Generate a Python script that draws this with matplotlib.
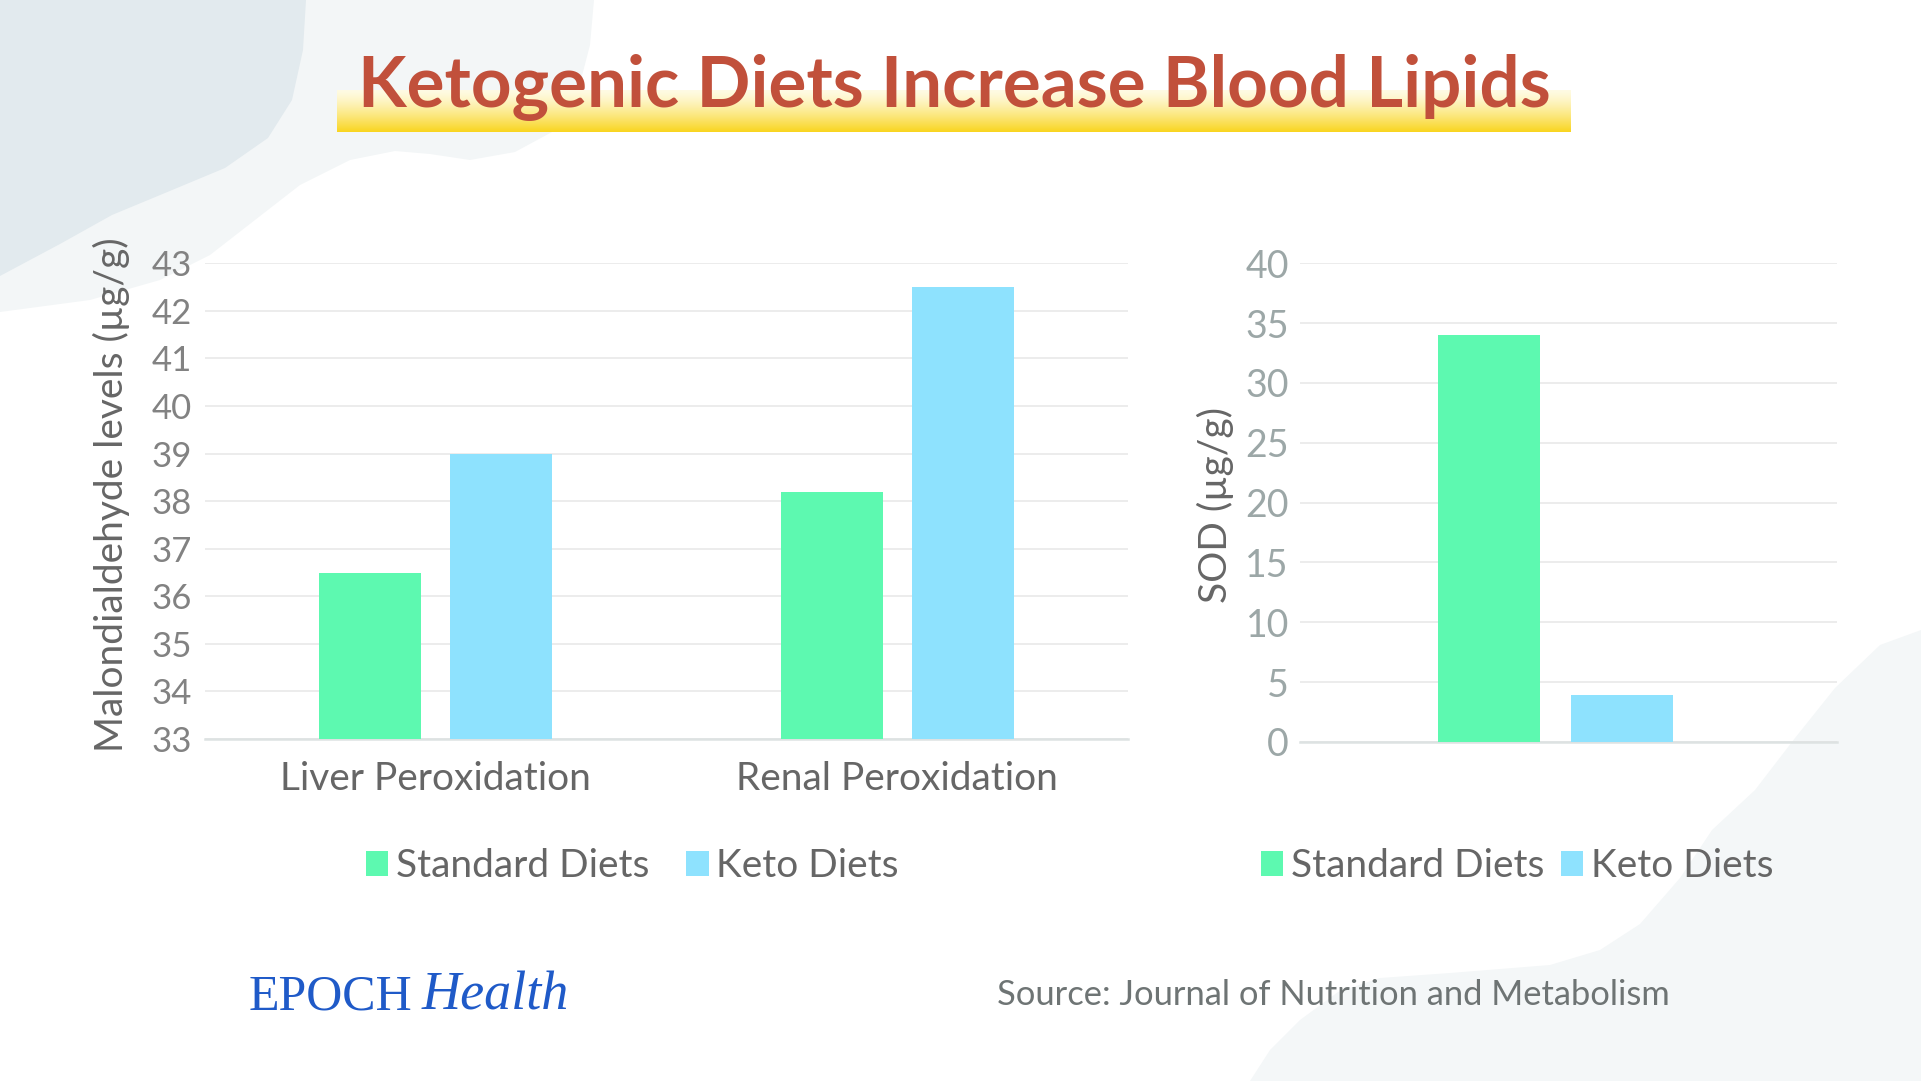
import matplotlib
matplotlib.use('Agg')
import matplotlib.pyplot as plt
import numpy as np
from matplotlib.patches import Polygon

# ---------------- data ----------------
title = 'Ketogenic Diets Increase Blood Lipids'
categories = ['Liver Peroxidation', 'Renal Peroxidation']
series_names = ['Standard Diets', 'Keto Diets']
mda_standard = [36.5, 38.2]
mda_keto = [39.0, 42.5]
mda_ticks = [33, 34, 35, 36, 37, 38, 39, 40, 41, 42, 43]
sod_standard = [34.0]
sod_keto = [3.9]
sod_ticks = [0, 5, 10, 15, 20, 25, 30, 35, 40]
mda_label = 'Malondialdehyde levels (µg/g)'
sod_label = 'SOD (µg/g)'
source_text = 'Source: Journal of Nutrition and Metabolism'

# ---------------- style ----------------
GREEN = '#5df9b0'
BLUE = '#8ee2fe'
TEXT_DARK = '#666666'
plt.rcParams['font.family'] = ['Lato', 'DejaVu Sans']

W, H = 1921, 1081
fig = plt.figure(figsize=(W / 100, H / 100), dpi=100)
fig.patch.set_facecolor('white')


def fx(px):
    return px / W


def fy(py):
    return 1 - py / H


# ---------------- background decoration ----------------
bg = fig.add_axes([0, 0, 1, 1], zorder=-10)
bg.set_xlim(0, W)
bg.set_ylim(H, 0)
bg.axis('off')
light_tl = [(0, 0), (594, 0), (590, 45), (577, 95), (552, 132), (515, 152), (470, 160),
            (430, 154), (395, 151), (350, 160), (300, 185), (255, 220), (210, 255),
            (160, 280), (90, 300), (0, 312)]
dark_tl = [(0, 0), (306, 0), (303, 50), (292, 100), (268, 138), (225, 168), (165, 193),
           (112, 215), (60, 244), (0, 276)]
light_br = [(1921, 630), (1880, 645), (1835, 688), (1795, 738), (1755, 790), (1712, 830),
            (1680, 878), (1640, 924), (1600, 950), (1550, 965), (1450, 973), (1380, 978),
            (1338, 992), (1300, 1020), (1270, 1050), (1250, 1081), (1921, 1081)]
bg.add_patch(Polygon(light_tl, closed=True, facecolor='#f3f6f7', edgecolor='none'))
bg.add_patch(Polygon(dark_tl, closed=True, facecolor='#e2eaee', edgecolor='none'))
bg.add_patch(Polygon(light_br, closed=True, facecolor='#f4f7f8', edgecolor='none'))

# ---------------- title with yellow gradient band ----------------
gax = fig.add_axes([fx(337), fy(132), fx(1571 - 337), (132 - 90) / H], zorder=-5)
t = np.linspace(0, 1, 100) ** 1.3
top = np.array([255, 251, 228]) / 255
bot = np.array([249, 213, 32]) / 255
grad = (top[None, :] * (1 - t[:, None]) + bot[None, :] * t[:, None])[:, None, :]
gax.imshow(grad, aspect='auto', extent=(0, 1, 0, 1))
gax.axis('off')
fig.text(fx(954.5), fy(106.7), title, ha='center', va='baseline', fontsize=51,
         fontweight='bold', color='#c1503b')


def style_axis(ax, ticks, tick_color, tick_size, tick_pad):
    ax.set_facecolor('none')
    for s in ['left', 'right', 'top']:
        ax.spines[s].set_visible(False)
    ax.spines['bottom'].set_color('#dde2e2')
    ax.spines['bottom'].set_linewidth(1.8)
    ax.set_yticks(ticks)
    ax.yaxis.grid(True, color='#e7e7e7', linewidth=1.1)
    ax.set_axisbelow(True)
    ax.tick_params(axis='y', length=0, pad=tick_pad, labelsize=tick_size, labelcolor=tick_color)


# ---------------- left chart ----------------
ax1 = fig.add_axes([fx(205), fy(739), fx(923), 475.7 / H])
x = np.arange(len(categories))
bw, off = 0.2217, 0.142
ax1.bar(x - off, mda_standard, bw, color=GREEN, label=series_names[0], zorder=3)
ax1.bar(x + off, mda_keto, bw, color=BLUE, label=series_names[1], zorder=3)
ax1.set_xlim(-0.5, len(categories) - 0.5)
ax1.set_ylim(mda_ticks[0], mda_ticks[-1])
style_axis(ax1, mda_ticks, '#828282', 25, 9.5)
ax1.set_xticks(x, categories)
ax1.tick_params(axis='x', length=0, pad=16, labelsize=28, labelcolor=TEXT_DARK)
ax1.set_ylabel(mda_label, fontsize=28, color='#666666')
ax1.yaxis.set_label_coords(-0.0813, 0.514)
ax1.legend(loc='center', bbox_to_anchor=(fx(632.5), fy(866)), bbox_transform=fig.transFigure,
           ncol=2, frameon=False, fontsize=28, handlelength=0.57, handleheight=0.62,
           handletextpad=0.2, columnspacing=0.95, labelcolor=TEXT_DARK, borderpad=0)

# ---------------- right chart ----------------
ax2 = fig.add_axes([fx(1300), fy(742), fx(537), 478.7 / H])
x2 = np.arange(len(sod_standard))
bw2, off2 = 0.1905, 0.1238
ax2.bar(x2 - off2, sod_standard, bw2, color=GREEN, label=series_names[0], zorder=3)
ax2.bar(x2 + off2, sod_keto, bw2, color=BLUE, label=series_names[1], zorder=3)
ax2.set_xlim(-0.4754, 0.5246)
ax2.set_ylim(sod_ticks[0], sod_ticks[-1])
style_axis(ax2, sod_ticks, '#9ca7a7', 27, 8)
ax2.set_xticks([])
ax2.set_ylabel(sod_label, fontsize=28, color='#666666')
ax2.yaxis.set_label_coords(-0.1229, 0.495)
ax2.legend(loc='center', bbox_to_anchor=(fx(1517.5), fy(866)), bbox_transform=fig.transFigure,
           ncol=2, frameon=False, fontsize=28, handlelength=0.57, handleheight=0.62,
           handletextpad=0.2, columnspacing=0.43, labelcolor=TEXT_DARK, borderpad=0)

# ---------------- footer ----------------
fig.text(fx(249), fy(1009), 'EPOCH', family=['Liberation Serif', 'DejaVu Serif'], fontsize=36,
         color='#1f5ac8', ha='left', va='baseline')
fig.text(fx(422), fy(1009), 'Health', family=['Liberation Serif', 'DejaVu Serif'], fontsize=39,
         style='italic', color='#1f5ac8', ha='left', va='baseline')
fig.text(fx(997), fy(1005), source_text, fontsize=24.8, color='#6e7474',
         ha='left', va='baseline')

fig.savefig('out.png', dpi=100)
